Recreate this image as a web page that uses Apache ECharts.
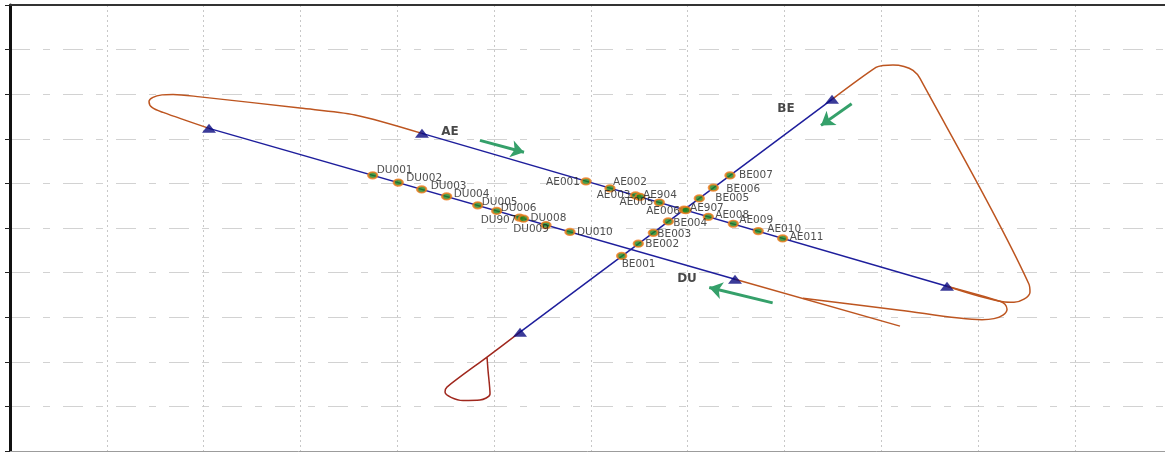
<!DOCTYPE html>
<html>
<head>
<meta charset="utf-8">
<title>Approach routes AE / BE / DU</title>
<script src="https://cdn.jsdelivr.net/npm/echarts@6/dist/echarts.min.js"></script>
<style>
  html, body { margin: 0; padding: 0; background: #fff; }
  #chart { width: 1165px; height: 452px; }
</style>
</head>
<body>
<div id="chart"></div>
<script>
// ---- Route centrelines (grid units) ----
const duLine = [[2.056, 7.234], [7.490, 3.852]];
const aeLine = [[4.256, 7.122], [9.680, 3.695]];
const beLine = [[5.269, 2.665], [8.492, 7.884]];

// ---- Turn connectors between routes ----
const westTurn = [[2.056, 7.234], [1.581, 7.592], [1.467, 7.704], [1.436, 7.839], [1.477, 7.928],
  [1.570, 7.985], [1.684, 7.996], [1.963, 7.940], [2.996, 7.689], [3.564, 7.536], [4.256, 7.122]];
const eastTurnToBE = [[9.680, 3.695], [10.258, 3.348], [10.372, 3.337], [10.475, 3.404], [10.537, 3.561],
  [10.527, 3.740], [9.401, 8.354], [9.329, 8.533], [9.236, 8.623], [9.122, 8.656], [9.019, 8.645],
  [8.946, 8.600], [8.492, 7.884]];
const eastTurnToDU = [[9.680, 3.695], [10.227, 3.359], [10.279, 3.292], [10.300, 3.180], [10.258, 3.046],
  [10.165, 2.968], [10.041, 2.945], [9.194, 3.158], [8.192, 3.427]];
const duTail = [[7.490, 3.852], [9.194, 2.800]];
const beHold = [[5.269, 2.665], [4.928, 2.105], [4.514, 1.433], [4.494, 1.321], [4.556, 1.203],
  [4.680, 1.131], [4.855, 1.142], [4.959, 1.277], [4.938, 1.814], [4.928, 2.105]];

// ---- Route-end markers ----
const routeEnds = [[2.056, 7.234], [4.256, 7.122], [7.490, 3.852], [9.680, 3.695], [8.492, 7.884], [5.269, 2.665]];

// ---- Route names ----
const routeNames = ['AE', 'BE', 'DU'];
const routeNameX = [4.545, 8.017, 6.994];
const routeNameY = [7.145, 7.682, 3.852];

// ---- Traffic flow arrows ----
const flowArrows = [
  [[4.855, 6.965], [5.310, 6.697]],
  [[8.695, 7.787], [8.378, 7.301]],
  [[7.879, 3.321], [7.224, 3.666]]
];

// ---- Waypoints ----
const aeNames = ['AE001', 'AE002', 'AE003', 'AE904', 'AE005', 'AE006', 'AE907', 'AE008', 'AE009', 'AE010', 'AE011'];
const aeX = [5.950, 6.198, 6.462, 6.508, 6.708, 6.963, 6.983, 7.214, 7.472, 7.730, 7.982];
const aeY = [6.045, 5.890, 5.730, 5.700, 5.572, 5.411, 5.399, 5.250, 5.095, 4.930, 4.766];

const duNames = ['DU001', 'DU002', 'DU003', 'DU004', 'DU005', 'DU006', 'DU907', 'DU008', 'DU009', 'DU010'];
const duX = [3.747, 4.011, 4.253, 4.511, 4.832, 5.028, 5.263, 5.305, 5.537, 5.785];
const duY = [6.181, 6.018, 5.864, 5.708, 5.508, 5.383, 5.234, 5.210, 5.065, 4.911];

const beNames = ['BE001', 'BE002', 'BE003', 'BE004', 'BE005', 'BE006', 'BE007'];
const beX = [6.319, 6.491, 6.646, 6.801, 7.121, 7.266, 7.438];
const beY = [4.375, 4.648, 4.892, 5.148, 5.662, 5.905, 6.179];

// ---- Label placement for each waypoint: [anchor side, dx, dy] in px ----
const labelPlacement = {
  DU001: ['left', 4, -5], DU002: ['left', 8, -4], DU003: ['left', 9, -3], DU004: ['left', 7, -2],
  DU005: ['left', 4, -3], DU006: ['left', 4, -3], DU907: ['right', -3, 3], DU008: ['left', 7, 0],
  DU009: ['right', 3, 4], DU010: ['left', 7, 0],
  AE001: ['right', -6, 1], AE002: ['left', 3, -6], AE003: ['right', -5, 0], AE904: ['left', 3, -1.5],
  AE005: ['right', -6, 0], AE006: ['right', -4, 1.5], AE907: ['left', 4, -2], AE008: ['left', 7, -2],
  AE009: ['left', 6, -3], AE010: ['left', 9, -1.5], AE011: ['left', 7, -1.5],
  BE001: ['left', 0, 8], BE002: ['left', 7, 1], BE003: ['left', 4, 1], BE004: ['left', 5, 2],
  BE005: ['left', 16, 0], BE006: ['left', 13, 2], BE007: ['left', 9, 0]
};

const BLUE = '#1e1e9c';
const ORANGE = '#bd5520';
const DARKRED = '#a0281e';
const GREEN = '#35a06a';

const allWaypointNames = aeNames.concat(duNames, beNames);

function waypointData(names, xs, ys) {
  return names.map(function (n, i) {
    return {
      name: n,
      value: [xs[i], ys[i]],
      label: { align: labelPlacement[n][0] }
    };
  });
}

function pathSeries(points, color, smooth) {
  return {
    type: 'line',
    data: points,
    showSymbol: false,
    smooth: smooth,
    silent: true,
    lineStyle: { color: color, width: 1.5 },
    z: 2
  };
}

const X_MAX = 11.932;

const chart = echarts.init(document.getElementById('chart'));
chart.setOption({
  animation: false,
  backgroundColor: '#ffffff',
  grid: { left: 10, top: 5, right: 0, bottom: 1, show: false },
  xAxis: [
    {
      type: 'value', min: 0, max: X_MAX, interval: 1, position: 'bottom',
      axisLine: { show: true, onZero: false, lineStyle: { color: '#9c9c9c', width: 1 } },
      axisTick: { show: false }, axisLabel: { show: false },
      splitLine: { show: true, showMinLine: false, showMaxLine: false,
        lineStyle: { color: '#c8c8c8', width: 1, type: [2, 3] } }
    },
    {
      type: 'value', min: 0, max: X_MAX, interval: 1, position: 'top',
      axisLine: { show: true, onZero: false, lineStyle: { color: '#333333', width: 2 } },
      axisTick: { show: false }, axisLabel: { show: false }, splitLine: { show: false }
    }
  ],
  yAxis: {
    type: 'value', min: 0, max: 10, interval: 1,
    axisLine: { show: true, onZero: false, lineStyle: { color: '#111111', width: 3 } },
    axisTick: { show: true, inside: false, length: 5, lineStyle: { color: '#222222', width: 1 } },
    axisLabel: { show: false },
    splitLine: { show: true, lineStyle: { color: '#d2d2d2', width: 1, type: [20, 13, 7, 13] } }
  },
  series: [
    pathSeries(westTurn, ORANGE, 0.3),
    pathSeries(eastTurnToBE, ORANGE, 0.3),
    pathSeries(eastTurnToDU, ORANGE, 0.3),
    pathSeries(duTail, ORANGE, false),
    pathSeries(beHold, DARKRED, 0.3),
    pathSeries(duLine, BLUE, false),
    pathSeries(aeLine, BLUE, false),
    pathSeries(beLine, BLUE, false),
    {
      type: 'lines',
      coordinateSystem: 'cartesian2d',
      silent: true,
      symbol: ['none', 'arrow'],
      symbolSize: 13,
      lineStyle: { color: GREEN, width: 3, opacity: 1 },
      data: flowArrows.map(function (c) { return { coords: c }; }),
      z: 3
    },
    {
      type: 'scatter',
      symbol: 'triangle',
      symbolSize: [14, 9],
      itemStyle: { color: '#0a0a80' },
      data: routeEnds,
      silent: true,
      z: 4
    },
    {
      type: 'scatter',
      symbolSize: 0,
      data: routeNames.map(function (n, i) { return { name: n, value: [routeNameX[i], routeNameY[i]] }; }),
      label: {
        show: true, position: 'inside', formatter: '{b}',
        fontFamily: 'DejaVu Sans', fontWeight: 'bold', fontSize: 12, color: '#1a1a1a'
      },
      silent: true,
      z: 5
    },
    {
      type: 'scatter',
      symbol: 'circle',
      symbolSize: [9, 6.5],
      itemStyle: { color: '#1d861d', borderColor: '#f07a1c', borderWidth: 2 },
      data: waypointData(aeNames, aeX, aeY)
        .concat(waypointData(duNames, duX, duY))
        .concat(waypointData(beNames, beX, beY)),
      label: {
        show: true, position: 'inside', formatter: '{b}', verticalAlign: 'middle',
        fontFamily: 'DejaVu Sans', fontSize: 10.5, color: '#222222'
      },
      labelLayout: function (params) {
        const p = labelPlacement[allWaypointNames[params.dataIndex]];
        return { dx: p[1], dy: p[2], hideOverlap: false };
      },
      silent: true,
      z: 6
    }
  ]
});
</script>
</body>
</html>
